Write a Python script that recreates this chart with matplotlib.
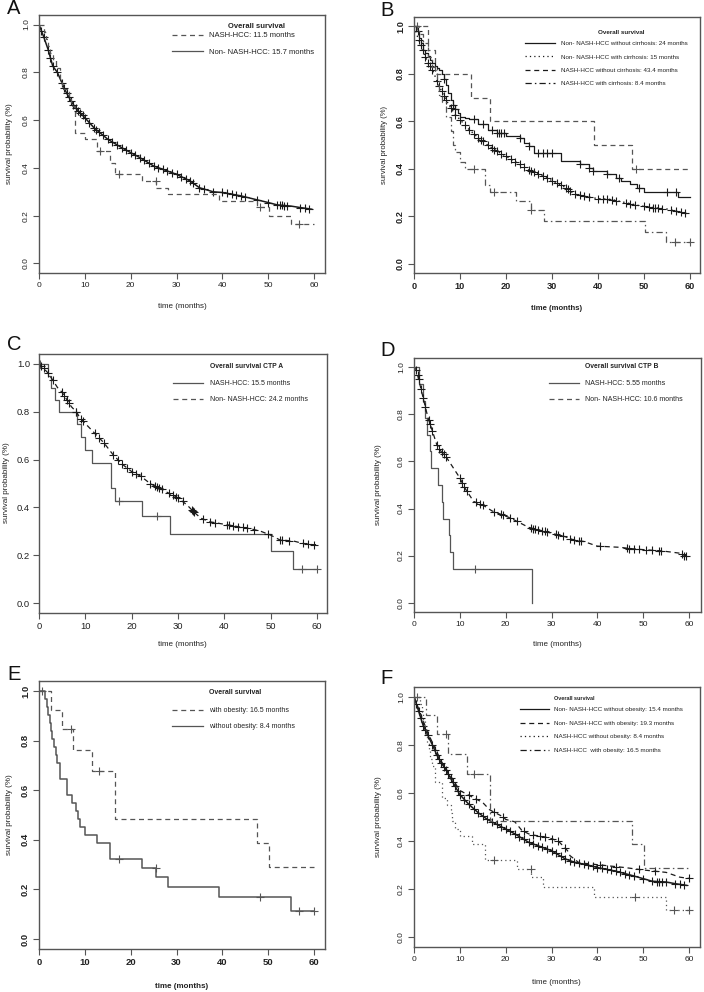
import numpy as np
import matplotlib
matplotlib.use('Agg')
import matplotlib.pyplot as plt
from matplotlib.lines import Line2D

plt.rcParams['font.family'] = ['Liberation Sans', 'DejaVu Sans']

# ---------------- DATA ----------------
# Panel A
A_non_t = [0, 1, 2, 3, 4, 5, 6, 7, 8, 10, 12, 15, 18, 20, 22, 25, 28, 30, 33, 35, 38, 40, 44, 47, 50, 52, 55, 57, 59.5]
A_non_s = [1.0, 0.95, 0.895, 0.826, 0.80, 0.756, 0.714, 0.68, 0.65, 0.61, 0.568, 0.52, 0.485, 0.464, 0.443, 0.408,
           0.387, 0.373, 0.345, 0.317, 0.30, 0.297, 0.283, 0.269, 0.255, 0.245, 0.24, 0.234, 0.227]
A_non_c = [0.5, 1, 2, 2.5, 3, 4, 5, 5.5, 6, 6.5, 7, 7.5, 8, 8.5, 9, 9.5, 10, 11, 12, 12.5, 13, 14, 15, 16, 17, 18,
           19, 20, 21, 22, 23, 24, 25, 26, 27, 28, 29, 30, 31, 32, 33, 33.5, 35, 36, 38, 40, 41, 42, 43, 44, 45,
           47.5, 50, 52, 52.5, 53, 53.5, 54, 57, 58, 59]
A_nash_t = [0, 1, 1.5, 2, 2.5, 3, 3.8, 4.5, 5, 6.5, 7, 7.8, 10, 12.6, 15.5, 16.5, 22.4, 25.6, 28.2, 39.2, 47.6, 50.2, 54.9, 60]
A_nash_s = [1.0, 0.97, 0.94, 0.91, 0.88, 0.85, 0.82, 0.76, 0.73, 0.69, 0.66, 0.545, 0.52, 0.47, 0.42, 0.373, 0.345,
            0.317, 0.292, 0.262, 0.238, 0.20, 0.167, 0.167]
A_nash_c = [13.2, 17.5, 25.5, 48.3, 56.7]

# Panel B
B_nonnc_t = [0, 0.5, 1, 1.5, 2, 2.5, 3, 3.5, 4, 4.5, 5, 5.5, 6, 6.5, 7, 7.5, 8, 8.5, 9, 9.5, 10, 11, 12, 14, 16, 18,
             20, 23, 24, 25, 26, 32, 36, 38, 39, 42, 44, 45, 47, 48.5, 50, 57.5, 60]
B_nonnc_s = [1.0, 0.98, 0.95, 0.93, 0.90, 0.89, 0.874, 0.86, 0.845, 0.835, 0.825, 0.815, 0.80, 0.78, 0.755, 0.72,
             0.69, 0.67, 0.65, 0.635, 0.62, 0.614, 0.61, 0.59, 0.565, 0.55, 0.537, 0.53, 0.51, 0.495, 0.467, 0.432,
             0.418, 0.404, 0.39, 0.376, 0.362, 0.348, 0.334, 0.32, 0.303, 0.282, 0.282]
B_nonnc_c = [0.8, 6.5, 8.5, 9, 13, 15, 17, 18, 18.5, 19, 19.5, 23, 25, 27, 28, 29, 30, 36, 38, 39, 42, 44.5, 49, 55, 57]
B_nonc_t = [0, 1, 2, 3, 4, 5, 6, 7, 8, 9, 10, 12, 14, 16, 18, 20, 22, 25, 28, 30, 33, 35, 38, 40, 43, 46, 49, 52, 55,
            57, 59.5]
B_nonc_s = [1.0, 0.944, 0.90, 0.846, 0.818, 0.77, 0.727, 0.69, 0.656, 0.628, 0.607, 0.565, 0.53, 0.50, 0.474, 0.453,
            0.43, 0.394, 0.369, 0.35, 0.32, 0.292, 0.28, 0.274, 0.27, 0.257, 0.244, 0.236, 0.23, 0.222, 0.21]
B_nonc_c = [1, 1.5, 2, 2.5, 3, 3.5, 4, 5, 5.5, 6, 6.5, 7, 8, 9, 10, 11, 12, 13, 14, 14.5, 15, 16, 17, 17.5, 18, 19,
            20, 21, 22, 23, 24, 25, 25.5, 26, 27, 28, 29, 30, 31, 32, 33, 33.5, 34, 35, 36, 37, 38, 40, 41, 42, 43,
            44, 46, 47, 48, 50, 51, 52, 52.5, 53, 54, 56, 57, 58, 59]
B_nashnc_t = [0, 3, 4.5, 12.4, 16.5, 39.1, 47.5, 60]
B_nashnc_s = [1.0, 0.9, 0.8, 0.7, 0.6, 0.5, 0.4, 0.4]
B_nashnc_c = [0.7, 48.3]
B_nashc_t = [0, 1, 2, 3, 4, 5, 5.5, 6, 7, 8, 8.5, 9, 10, 11, 15.5, 16.5, 22.2, 25.5, 28.3, 50.2, 54.9, 60]
B_nashc_s = [1.0, 0.97, 0.93, 0.87, 0.83, 0.77, 0.71, 0.68, 0.62, 0.56, 0.5, 0.47, 0.43, 0.40, 0.33, 0.30, 0.265,
             0.225, 0.18, 0.135, 0.09, 0.09]
B_nashc_c = [13, 17.5, 25.5, 56.7, 60]

# Panel C (CTP A)
C_nash_t = [0, 2, 2.5, 3.5, 4.3, 8.3, 9.0, 10.0, 11.5, 15.5, 16.5, 22.3, 28.2, 50.2, 54.9, 60]
C_nash_s = [1.0, 0.95, 0.90, 0.85, 0.80, 0.75, 0.695, 0.64, 0.585, 0.48, 0.425, 0.365, 0.29, 0.22, 0.145, 0.145]
C_nash_c = [0.3, 8.0, 17.3, 25.5, 56.7, 60]
C_non_t = [0, 1, 2, 3, 4, 5, 6, 7, 8, 9, 10, 12, 14, 16, 18, 20, 22, 24, 26, 28, 30, 32, 33.5, 35, 37, 40, 43, 46,
           48, 50, 52, 55, 57, 59, 60]
C_non_s = [1.0, 0.98, 0.96, 0.93, 0.90, 0.88, 0.85, 0.82, 0.80, 0.77, 0.75, 0.71, 0.67, 0.62, 0.58, 0.55, 0.53, 0.50,
           0.48, 0.46, 0.44, 0.41, 0.38, 0.355, 0.34, 0.33, 0.32, 0.31, 0.30, 0.285, 0.265, 0.26, 0.25, 0.245, 0.245]
C_non_c = [0.5, 1, 2, 3, 5, 5.5, 6, 6.5, 8, 9, 9.5, 12, 13, 14, 16, 17, 18, 19, 20, 21, 22, 24, 25, 25.5, 26, 26.5,
           28, 29, 29.5, 30, 31, 33, 33.2, 33.5, 35.5, 37, 38, 40.5, 41, 42, 43, 44, 45, 46.5, 49.5, 52, 52.5, 54,
           57, 58, 59.5]

# Panel D (CTP B)
D_nash_t = [0, 1.0, 2.0, 2.4, 2.9, 3.5, 3.8, 5.3, 6.1, 6.4, 7.6, 7.8, 8.6, 25.8]
D_nash_s = [1.0, 0.929, 0.857, 0.786, 0.714, 0.643, 0.571, 0.5, 0.429, 0.357, 0.286, 0.214, 0.143, 0.0]
D_nash_c = [13.2]
D_non_t = [0, 0.5, 1, 1.5, 2, 2.5, 3, 3.5, 4, 5, 6, 7, 8, 9, 10, 11, 12, 13, 15, 17, 19, 21, 23, 25, 27, 29, 31, 33,
           35, 37, 40, 45, 47, 50, 54, 58, 59, 59.5]
D_non_s = [1.0, 0.99, 0.95, 0.91, 0.87, 0.83, 0.79, 0.76, 0.73, 0.67, 0.64, 0.62, 0.59, 0.56, 0.53, 0.49, 0.46, 0.43,
           0.415, 0.39, 0.375, 0.36, 0.34, 0.32, 0.31, 0.30, 0.29, 0.28, 0.265, 0.26, 0.24, 0.235, 0.23, 0.225,
           0.22, 0.21, 0.20, 0.20]
D_non_c = [0.5, 0.8, 1, 1.5, 2, 2.5, 3.2, 3.5, 4, 5, 5.5, 6, 6.5, 7, 10, 10.5, 11, 11.5, 13.5, 14.5, 15, 17.5, 19,
           19.5, 21, 22.5, 25.5, 26, 26.5, 27, 28, 28.5, 29, 31, 31.5, 32.5, 34, 35, 36, 36.5, 40.5, 46.5, 47, 48,
           49, 50.5, 52, 53.5, 53.8, 58.5, 59, 59.3]

# Panel E (NASH-HCC by obesity)
E_ob_t = [0, 2.7, 5.1, 7.5, 11.5, 16.5, 47.5, 50.2, 60]
E_ob_s = [1.0, 0.923, 0.846, 0.763, 0.678, 0.484, 0.388, 0.29, 0.29]
E_ob_c = [6.9, 13.1]
E_noob_t = [0, 1.3, 1.8, 2.0, 2.3, 2.6, 2.9, 3.3, 3.6, 4.0, 4.6, 6.1, 7.3, 8.1, 8.4, 9.0, 10.1, 12.6, 15.5, 22.4,
            25.6, 28.2, 39.3, 55, 60]
E_noob_s = [1.0, 0.968, 0.935, 0.903, 0.871, 0.839, 0.806, 0.774, 0.742, 0.71, 0.645, 0.58, 0.548, 0.516, 0.484,
            0.45, 0.42, 0.387, 0.323, 0.285, 0.25, 0.21, 0.168, 0.112, 0.112]
E_noob_c = [0.7, 17.5, 25.5, 48.3, 56.7, 60]

# Panel F (non-NASH by obesity)
F_nonno_t = [0, 1, 2, 3, 4, 5, 6, 7, 8, 9, 10, 12, 14, 16, 18, 20, 22, 25, 28, 30, 33, 35, 38, 40, 44, 47, 50, 52,
             55, 57, 59.5]
F_nonno_s = [1.0, 0.94, 0.88, 0.84, 0.80, 0.757, 0.723, 0.696, 0.66, 0.627, 0.593, 0.552, 0.518, 0.49, 0.47, 0.45,
             0.43, 0.395, 0.374, 0.36, 0.326, 0.312, 0.30, 0.29, 0.275, 0.26, 0.244, 0.233, 0.23, 0.223, 0.216]
F_nonno_c = [0.5, 1, 1.5, 2, 2.5, 3, 4, 4.5, 5, 5.5, 6, 6.5, 7, 7.5, 8, 8.5, 9, 9.5, 10, 11, 12, 13, 14, 15, 16,
             17, 18, 19, 20, 21, 22, 23, 24, 25, 26, 27, 28, 29, 30, 31, 32, 33, 34, 35, 36, 37, 38, 39, 40, 41,
             42, 43, 44, 45, 46, 47, 48, 50, 52, 53, 53.5, 54, 55, 57, 58, 59]
F_nonob_t = [0, 1, 2, 3, 4, 5, 6, 7, 8, 9, 10, 11, 12, 13, 15, 16.5, 19.5, 20, 22, 23.5, 25, 26, 29, 30, 31.5, 32.5,
             33.5, 34, 36, 46, 50, 55, 58, 60]
F_nonob_s = [1.0, 0.95, 0.90, 0.85, 0.81, 0.77, 0.73, 0.70, 0.67, 0.64, 0.61, 0.60, 0.59, 0.58, 0.56, 0.53, 0.50,
             0.49, 0.48, 0.445, 0.43, 0.425, 0.415, 0.41, 0.40, 0.38, 0.36, 0.34, 0.31, 0.29, 0.28, 0.27, 0.25, 0.245]
F_nonob_c = [12, 13.5, 17.5, 19.5, 24, 26, 27.5, 28.5, 30, 31.5, 33, 40.5, 44, 49, 52.5, 60]

x_ticks = [0, 10, 20, 30, 40, 50, 60]
y_ticks = [0.0, 0.2, 0.4, 0.6, 0.8, 1.0]
y_ticklabels = ['0.0', '0.2', '0.4', '0.6', '0.8', '1.0']

# ---------------- FIGURE ----------------
W, H = 704, 992
fig = plt.figure(figsize=(W / 100, H / 100), dpi=100)

DASHED = (0, (4, 3))
DOTTED = (0, (1, 2.5))
DASHDOT = (0, (5, 2.5, 1.2, 2.5))
SPINE = '#555555'
DARK = '#1a1a1a'
GREY = '#555555'


def px_box(l, r, t, b):
    return [l / W, 1 - b / H, (r - l) / W, (b - t) / H]


def step_at(t, s, x):
    idx = np.searchsorted(np.asarray(t), np.asarray(x), side='right') - 1
    return np.asarray(s)[idx]


def km(ax, t, s, cens, ls, color, lw=0.9, step=True):
    if step:
        ax.step(t, s, where='post', ls=ls, color=color, lw=lw)
        cy = step_at(t, s, cens)
    else:
        ax.plot(t, s, ls=ls, color=color, lw=lw)
        cy = np.interp(cens, t, s)
    ax.plot(cens, cy, ls='none', marker='+', ms=6, mew=0.8, color=color)


def setup(ax, xmax, tick_fs, bold, yrot, xlabel_px, ylabel_px, label_fs, xlabel_bold):
    ax.set_xlim(0, xmax)
    ax.set_ylim(-0.04, 1.04)
    ax.set_xticks(x_ticks)
    ax.set_yticks(y_ticks)
    ax.set_yticklabels(y_ticklabels)
    w = 'bold' if bold else 'normal'
    ax.tick_params(direction='out', length=4, width=0.8, color=SPINE, labelsize=tick_fs, pad=2.5,
                   labelcolor='#222222')
    for lab in ax.get_xticklabels() + ax.get_yticklabels():
        lab.set_fontweight(w)
    if yrot:
        for lab in ax.get_yticklabels():
            lab.set_rotation(90)
            lab.set_va('center')
    for sp in ax.spines.values():
        sp.set_color(SPINE)
        sp.set_linewidth(1.0)
    ax.set_ylabel('survival probability (%)', fontsize=label_fs, color='#222222')
    ax.yaxis.set_label_coords(ylabel_px[0] / W, 1 - ylabel_px[1] / H, transform=fig.transFigure)
    ax.yaxis.label.set_va('center')
    if xlabel_px is not None:
        ax.set_xlabel('time (months)', fontsize=label_fs, color='#222222',
                      fontweight='bold' if xlabel_bold else 'normal')
        ax.xaxis.set_label_coords(xlabel_px[0] / W, 1 - xlabel_px[1] / H, transform=fig.transFigure)
        ax.xaxis.label.set_va('center')


def legend(ax, entries, title, x_line, y_rows, y_title, x_title, fs, tfs, hl_px, pad_px, title_ha='center'):
    fpx = fs * 100 / 72
    handles = [Line2D([], [], ls=ls, color=c, lw=0.9) for ls, c, _ in entries]
    labels = [lab for _, _, lab in entries]
    row_h = fpx * 1.15
    pitch = (y_rows[-1] - y_rows[0]) / (len(y_rows) - 1)
    lg = ax.legend(handles, labels, loc='center left',
                   bbox_to_anchor=(x_line / W, 1 - (y_rows[0] + y_rows[-1]) / 2 / H),
                   bbox_transform=fig.transFigure, frameon=False, fontsize=fs,
                   handlelength=hl_px / fpx, handletextpad=pad_px / fpx,
                   labelspacing=(pitch - row_h) / fpx, borderpad=0, borderaxespad=0)
    for txt in lg.get_texts():
        txt.set_color('#222222')
    fig.text(x_title / W, 1 - y_title / H, title, fontsize=tfs, fontweight='bold', ha=title_ha, va='center',
             color='#222222')


# ---- Panel A ----
axA = fig.add_axes(px_box(39, 325, 15, 273))
km(axA, A_non_t, A_non_s, A_non_c, '-', DARK, lw=1.1, step=False)
km(axA, A_nash_t, A_nash_s, A_nash_c, DASHED, GREY)
setup(axA, 62.4, 6.0, False, True, (182, 307), (10, 144), 5.8, False)
legend(axA, [(DASHED, GREY, 'NASH-HCC: 11.5 months'), ('-', GREY, 'Non- NASH-HCC: 15.7 months')],
       'Overall survival', 172, [35, 53], 26, 257, 5.5, 5.5, 31, 6)

# ---- Panel B ----
axB = fig.add_axes(px_box(414, 700, 17, 273))
km(axB, B_nonnc_t, B_nonnc_s, B_nonnc_c, '-', DARK)
km(axB, B_nonc_t, B_nonc_s, B_nonc_c, DOTTED, DARK, lw=1.0, step=False)
km(axB, B_nashnc_t, B_nashnc_s, B_nashnc_c, DASHED, GREY)
km(axB, B_nashc_t, B_nashc_s, B_nashc_c, DASHDOT, GREY)
setup(axB, 62.2, 6.6, True, True, (557, 309), (384, 145), 5.6, True)
legend(axB, [('-', DARK, 'Non- NASH-HCC without cirrhosis: 24 months'),
             (DOTTED, DARK, 'Non- NASH-HCC with cirrhosis: 15 months'),
             (DASHED, DARK, 'NASH-HCC without cirrhosis: 43.4 months'),
             (DASHDOT, DARK, 'NASH-HCC with cirrhosis: 8.4 months')],
       'Overall survival', 525, [41, 56, 71, 86], 32, 621, 4.5, 4.5, 30, 6)

# ---- Panel C ----
axC = fig.add_axes(px_box(39, 327, 354, 613))
km(axC, C_nash_t, C_nash_s, C_nash_c, '-', GREY)
km(axC, C_non_t, C_non_s, C_non_c, DASHED, DARK, step=False)
setup(axC, 62.2, 6.8, False, False, (182, 645), (7, 483), 5.8, False)
legend(axC, [('-', GREY, 'NASH-HCC: 15.5 months'), (DASHED, GREY, 'Non- NASH-HCC: 24.2 months')],
       'Overall survival CTP A', 173, [383, 400], 367, 247, 5.0, 4.9, 30, 7)

# ---- Panel D ----
axD = fig.add_axes(px_box(414, 701, 358, 612))
km(axD, D_nash_t, D_nash_s, D_nash_c, '-', GREY)
km(axD, D_non_t, D_non_s, D_non_c, DASHED, DARK, step=False)
setup(axD, 62.6, 6.0, False, True, (557, 644), (379, 485), 5.8, False)
legend(axD, [('-', GREY, 'NASH-HCC: 5.55 months'), (DASHED, GREY, 'Non- NASH-HCC: 10.6 months')],
       'Overall survival CTP B', 549, [383, 400], 367, 622, 5.0, 4.9, 30, 6)

# ---- Panel E ----
axE = fig.add_axes(px_box(39, 325, 681, 949))
km(axE, E_ob_t, E_ob_s, E_ob_c, DASHED, GREY)
km(axE, E_noob_t, E_noob_s, E_noob_c, '-', GREY, lw=1.1)
setup(axE, 62.4, 6.8, True, True, (182, 986), (10, 815), 5.8, True)
legend(axE, [(DASHED, GREY, 'with obesity: 16.5 months'), ('-', GREY, 'without obesity: 8.4 months')],
       'Overall survival', 172, [710, 727], 692, 235, 5.0, 5.0, 31, 6)

# ---- Panel F ----
axF = fig.add_axes(px_box(414, 700, 687, 947))
km(axF, F_nonno_t, F_nonno_s, F_nonno_c, '-', DARK, lw=1.1, step=False)
km(axF, F_nonob_t, F_nonob_s, F_nonob_c, DASHED, DARK, step=False)
km(axF, E_noob_t, E_noob_s, E_noob_c, DOTTED, GREY)
km(axF, E_ob_t, E_ob_s, E_ob_c, DASHDOT, GREY)
setup(axF, 62.4, 6.0, False, True, (556, 982), (379, 817), 5.8, False)
legend(axF, [('-', DARK, 'Non- NASH-HCC without obesity: 15.4 months'),
             (DASHED, DARK, 'Non- NASH-HCC with obesity: 19.3 months'),
             (DOTTED, DARK, 'NASH-HCC without obesity: 8.4 months'),
             (DASHDOT, DARK, 'NASH-HCC  with obesity: 16.5 months')],
       'Overall survival', 520, [707, 722, 737, 753], 699, 554, 4.5, 4.0, 29, 5, title_ha='left')

# Panel letters
for letter, (x, y) in zip('ABCDEF', [(14, 9), (387, 10), (14, 344), (388, 350), (14, 674), (387, 678)]):
    fig.text(x / W, 1 - y / H, letter, fontsize=14.5, ha='center', va='center', color='#111111')

fig.savefig('out.png', dpi=100)
